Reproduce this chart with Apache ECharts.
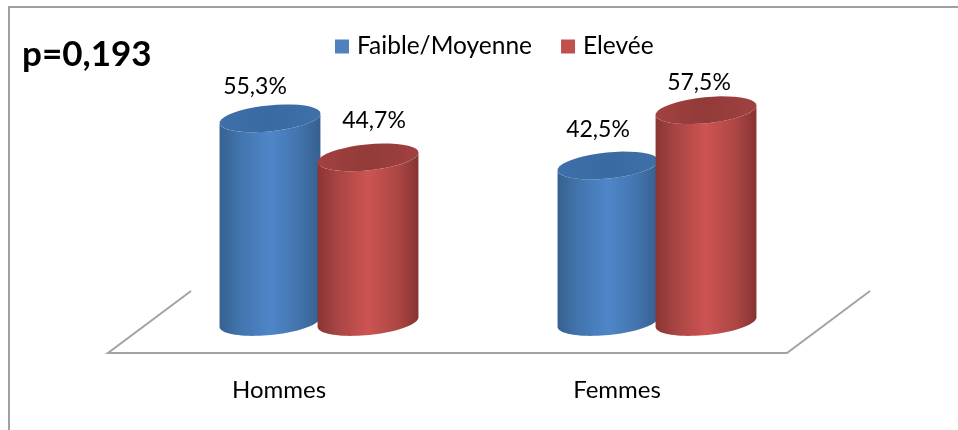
<!DOCTYPE html>
<html>
<head>
<meta charset="utf-8">
<style>html,body{margin:0;padding:0;background:#fff}#chart{width:958px;height:430px}</style>
<script src="https://cdn.jsdelivr.net/npm/echarts@6/dist/echarts.min.js"></script>
</head>
<body>
<div id="chart"></div>
<script>
var categories = ['Hommes', 'Femmes'];
var faibleMoyenne = [55.3, 42.5];
var elevee = [44.7, 57.5];

var myChart = echarts.init(document.getElementById('chart'));
var fontName = 'Lato';

// returns points of a tilted ellipse arc, from angle a0 to a1 (radians)
function arc(cx, cy, rx, ry, tilt, a0, a1) {
    var pts = [];
    for (var i = 0; i <= 40; i++) {
        var a = a0 + (a1 - a0) * i / 40;
        var x = rx * Math.cos(a);
        var y = ry * Math.sin(a);
        pts.push([cx + x * Math.cos(tilt) - y * Math.sin(tilt), cy + x * Math.sin(tilt) + y * Math.cos(tilt)]);
    }
    return pts;
}

function sideGradient(stops) {
    return new echarts.graphic.LinearGradient(0, 0, 1, 0, stops);
}

// one cylinder per data item, side = -1 left of the category, +1 right of it
function cylinderSeries(name, values, side, swatch, body, cap, labelNudge) {
    return {
        name: name,
        type: 'custom',
        itemStyle: { color: swatch },
        encode: { x: 0, y: 1 },
        data: values.map(function (v, i) { return [i, v]; }),
        renderItem: function (params, api) {
            var band = api.size([1, 0])[0];
            var top = api.coord([api.value(0), api.value(1)]);
            var base = api.coord([api.value(0), 0]);
            var cx = top[0] + side * band * 0.145;
            var rx = band * 0.15;
            var ry = 13;
            var tilt = -0.1;
            var bodyPts = arc(cx, base[1], rx, ry, tilt, 0, Math.PI)
                .concat(arc(cx, top[1], rx, ry, tilt, Math.PI, 0));
            var nudge = labelNudge[params.dataIndex];
            return {
                type: 'group',
                children: [
                    { type: 'polygon', shape: { points: bodyPts }, style: { fill: sideGradient(body) } },
                    { type: 'polygon', shape: { points: arc(cx, top[1], rx, ry, tilt, 0, Math.PI * 2) }, style: { fill: sideGradient(cap) } },
                    {
                        type: 'text',
                        x: cx + nudge[0],
                        y: top[1] + nudge[1],
                        style: {
                            text: api.value(1).toFixed(1).replace('.', ',') + '%',
                            font: '23px ' + fontName,
                            fill: '#000',
                            align: 'center',
                            verticalAlign: 'middle'
                        }
                    }
                ]
            };
        }
    };
}

var blueBody = [
    { offset: 0, color: '#35628f' }, { offset: 0.2, color: '#4274ad' }, { offset: 0.5, color: '#4f86c9' },
    { offset: 0.8, color: '#4273ac' }, { offset: 1, color: '#365f8e' }
];
var blueCap = [{ offset: 0, color: '#3e6fa8' }, { offset: 0.5, color: '#3a6aa2' }, { offset: 1, color: '#3f70a8' }];
var redBody = [
    { offset: 0, color: '#8a3533' }, { offset: 0.2, color: '#a84543' }, { offset: 0.5, color: '#cd5452' },
    { offset: 0.8, color: '#ab4644' }, { offset: 1, color: '#863432' }
];
var redCap = [{ offset: 0, color: '#a24140' }, { offset: 0.5, color: '#923b39' }, { offset: 1, color: '#a04140' }];

var option = {
    animation: false,
    backgroundColor: '#fff',
    title: {
        text: 'p=0,193',
        left: 17,
        top: 32,
        textStyle: { fontFamily: fontName, fontSize: 35, fontWeight: 'bold', color: '#000' }
    },
    legend: {
        left: 330,
        top: 29,
        icon: 'rect',
        itemWidth: 14,
        itemHeight: 14,
        itemGap: 29,
        textStyle: { fontFamily: fontName, fontSize: 24.5, color: '#000', padding: [0, 0, 0, 3] }
    },
    grid: { left: 150, width: 676, top: 101, height: 221 },
    xAxis: {
        type: 'category',
        data: categories,
        axisLine: { show: false },
        axisTick: { show: false },
        axisLabel: { margin: 56, padding: [0, 80, 0, 0], color: '#000', fontFamily: fontName, fontSize: 24 }
    },
    yAxis: { type: 'value', min: 0, max: 60, show: false },
    graphic: [
        { type: 'polyline', shape: { points: [[191, 291], [108, 353], [787, 353], [870, 291]] }, style: { stroke: '#a3a3a3', lineWidth: 2, fill: null } },
        { type: 'rect', shape: { x: 9, y: 7, width: 960, height: 440 }, style: { stroke: '#a0a0a0', lineWidth: 2, fill: null }, silent: true }
    ],
    series: [
        cylinderSeries('Faible/Moyenne', faibleMoyenne, -1, '#4f81bd', blueBody, blueCap, [[-15, -32], [-10, -36]]),
        cylinderSeries('Elevée', elevee, 1, '#c0504d', redBody, redCap, [[6, -37], [-7, -28]])
    ]
};

myChart.setOption(option);
</script>
</body>
</html>
